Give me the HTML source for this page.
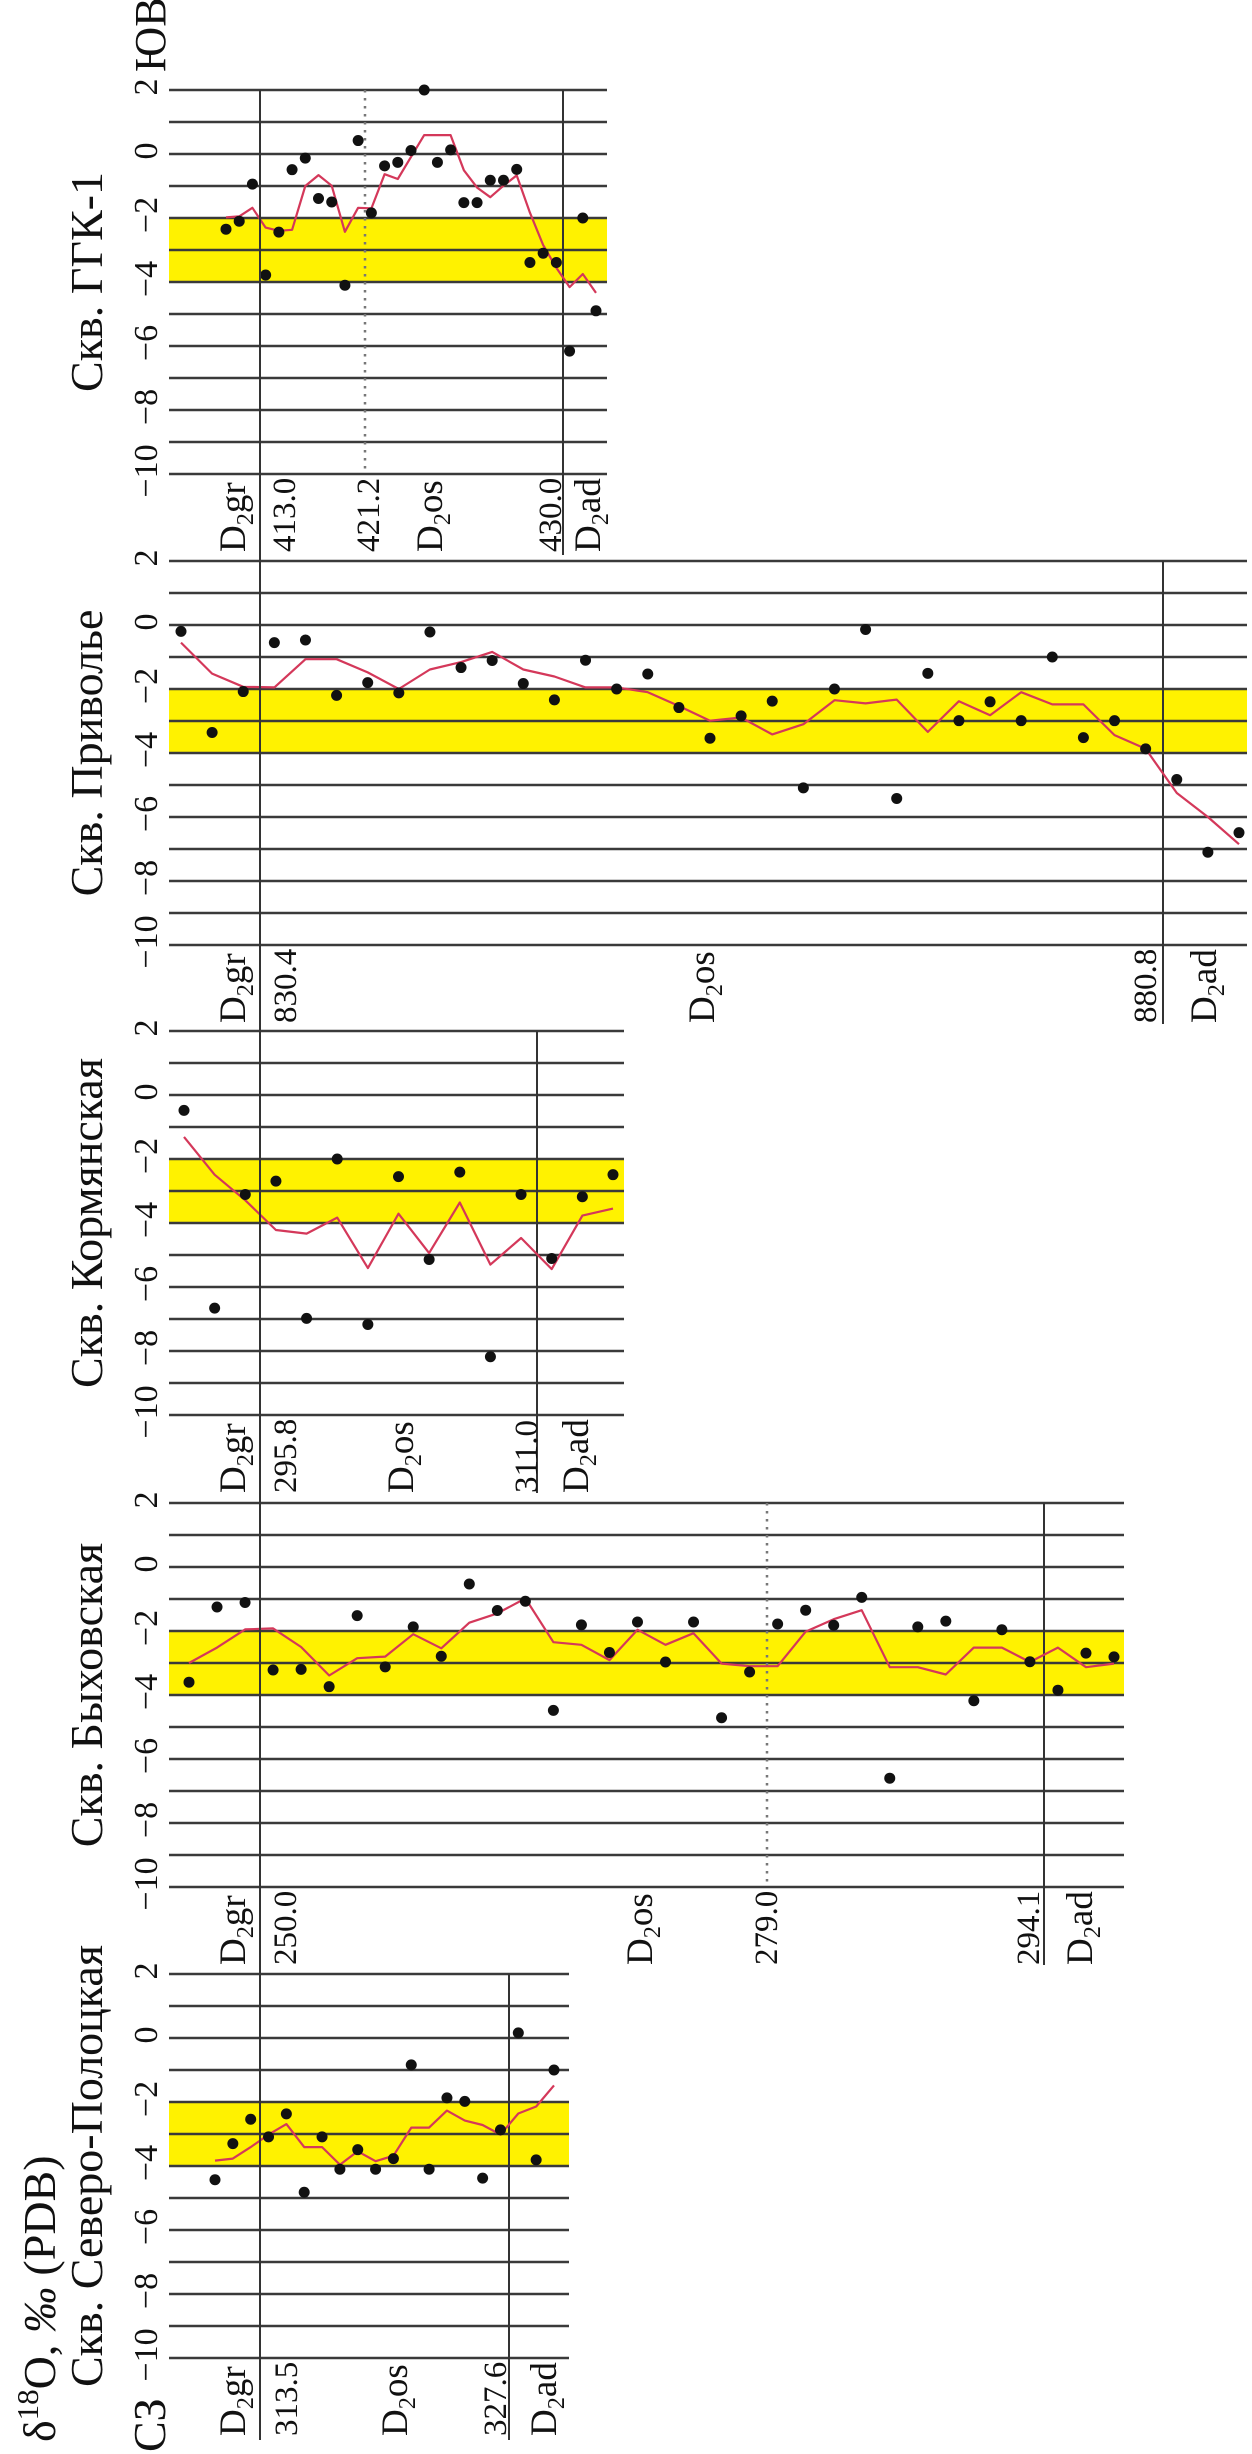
<!DOCTYPE html>
<html><head><meta charset="utf-8">
<style>
html,body{margin:0;padding:0;background:#fff;}
svg{display:block;font-family:"Liberation Serif",serif;}
</style></head>
<body>
<svg id="chart" width="1252" height="2454" viewBox="0 0 1252 2454" xmlns="http://www.w3.org/2000/svg">
<g id="layer"></g>
</svg>
<script>
// ---- data (sample-order values, δ18O ‰ PDB) ----
const valueTicks = [2, 0, -2, -4, -6, -8, -10];
const tickLabels = ["2", "0", "\u22122", "\u22124", "\u22126", "\u22128", "\u221210"];

const ggkValues = [-2.35,-2.1,-0.94,-3.78,-2.44,-0.49,-0.13,-1.39,-1.5,-4.1,0.42,-1.84,-0.37,-0.26,0.11,2.0,-0.26,0.13,-1.52,-1.52,-0.82,-0.82,-0.48,-3.39,-3.1,-3.39,-6.16,-2.0,-4.9];
const ggkTrend = [-1.98,-1.95,-1.68,-2.3,-2.4,-2.37,-1.0,-0.66,-0.99,-2.43,-1.68,-1.7,-0.63,-0.78,-0.09,0.59,0.59,0.59,-0.51,-1.05,-1.35,-0.99,-0.67,-1.83,-2.84,-3.56,-4.16,-3.75,-4.34];

const privValues = [-0.2,-3.36,-2.08,-0.55,-0.47,-2.2,-1.8,-2.12,-0.22,-1.33,-1.11,-1.83,-2.34,-1.1,-2.0,-1.53,-2.58,-3.54,-2.84,-2.38,-5.09,-2.0,-0.14,-5.42,-1.51,-2.99,-2.4,-2.99,-1.0,-3.52,-2.99,-3.87,-4.83,-7.1,-6.49];
const privTrend = [-0.55,-1.52,-1.93,-1.95,-1.07,-1.07,-1.48,-2.0,-1.39,-1.16,-0.84,-1.39,-1.61,-1.95,-1.95,-2.1,-2.53,-2.99,-2.89,-3.42,-3.1,-2.35,-2.45,-2.33,-3.34,-2.38,-2.82,-2.1,-2.48,-2.48,-3.44,-3.87,-5.25,-6.0,-6.85];

const kormValues = [-0.48,-6.66,-3.11,-2.69,-6.98,-2.0,-7.17,-2.55,-5.14,-2.41,-8.18,-3.11,-5.11,-3.18,-2.49];
const kormTrend = [-1.31,-2.49,-3.29,-4.22,-4.33,-3.83,-5.41,-3.71,-4.94,-3.36,-5.3,-4.47,-5.44,-3.77,-3.55];

const bykhValues = [-3.6,-1.25,-1.11,-3.22,-3.2,-3.74,-1.52,-3.12,-1.87,-2.79,-0.53,-1.36,-1.07,-4.48,-1.81,-2.67,-1.72,-2.97,-1.72,-4.71,-3.28,-1.78,-1.35,-1.82,-0.95,-6.6,-1.87,-1.69,-4.18,-1.96,-2.96,-3.85,-2.69,-2.81];
const bykhTrend = [-3.0,-2.52,-1.95,-1.92,-2.5,-3.39,-2.85,-2.8,-2.1,-2.54,-1.74,-1.45,-0.98,-2.35,-2.43,-2.91,-1.96,-2.43,-2.07,-3.02,-3.1,-3.1,-2.02,-1.63,-1.35,-3.13,-3.13,-3.36,-2.52,-2.52,-2.97,-2.52,-3.13,-3.02];

const spolValues = [-4.43,-3.3,-2.54,-3.09,-2.37,-4.82,-3.09,-4.1,-3.49,-4.1,-3.77,-0.84,-4.1,-1.87,-1.98,-4.38,-2.87,0.16,-3.81,-1.0];
const spolTrend = [-3.83,-3.77,-3.41,-3.02,-2.69,-3.41,-3.41,-3.96,-3.54,-3.85,-3.68,-2.8,-2.8,-2.27,-2.58,-2.72,-3.02,-2.36,-2.14,-1.48];

// ---- layout ----
const NS = "http://www.w3.org/2000/svg";
const layer = document.getElementById("layer");
const UNIT = 32, LEFT = 169;
function mk(tag, attrs, parent) {
  const e = document.createElementNS(NS, tag);
  for (const k in attrs) e.setAttribute(k, attrs[k]);
  (parent || layer).appendChild(e);
  return e;
}
function rtext(txt, x, y, size, anchor, parent) {
  const t = mk("text", {x: 0, y: 0, "font-size": size, "text-anchor": anchor || "start", fill: "#111",
    transform: "translate(" + x + "," + y + ") rotate(-90)"}, parent);
  t.textContent = txt;
  return t;
}
function rlabel(main, sub, rest, x, y, size, parent) {
  const t = mk("text", {x: 0, y: 0, "font-size": size, fill: "#111",
    transform: "translate(" + x + "," + y + ") rotate(-90)"}, parent);
  const a = document.createElementNS(NS, "tspan"); a.textContent = main; t.appendChild(a);
  const b = document.createElementNS(NS, "tspan"); b.setAttribute("font-size", size * 0.66); b.setAttribute("dy", size * 0.22); b.textContent = sub; t.appendChild(b);
  const c = document.createElementNS(NS, "tspan"); c.setAttribute("dy", -size * 0.22); c.textContent = rest; t.appendChild(c);
  return t;
}

const panels = [
  {key:"ggk", title:"Скв. ГГК-1", top:90, right:607, x0:226, x1:596, vals:ggkValues, trend:ggkTrend,
   solid:[[563,555]], dotted:[365],
   labels:[["n","413.0",295],["n","421.2",379],["D","os",442],["n","430.0",561],["D","ad",600]]},
  {key:"privolye", title:"Скв. Приволье", top:561, right:1247, x0:181, x1:1239, vals:privValues, trend:privTrend,
   solid:[[1163,1024]], dotted:[],
   labels:[["n","830.4",296],["D","os",714],["n","880.8",1156],["D","ad",1216]]},
  {key:"kormyanskaya", title:"Скв. Кормянская", top:1031, right:624, x0:184, x1:613, vals:kormValues, trend:kormTrend,
   solid:[[537,1493]], dotted:[],
   labels:[["n","295.8",296],["D","os",413],["n","311.0",537],["D","ad",588]]},
  {key:"bykhovskaya", title:"Скв. Быховская", top:1503, right:1124, x0:189, x1:1114, vals:bykhValues, trend:bykhTrend,
   solid:[[1044,1965]], dotted:[767],
   labels:[["n","250.0",296],["D","os",652],["n","279.0",777],["n","294.1",1039],["D","ad",1092]]},
  {key:"severo-polotskaya", title:"Скв. Северо-Полоцкая", top:1974, right:569, x0:215, x1:554, vals:spolValues, trend:spolTrend,
   solid:[[509,2440]], dotted:[],
   labels:[["n","313.5",297],["D","os",407],["n","327.6",506],["D","ad",556]]}
];

panels.forEach(p => {
  const g = mk("g", {});
  
  
  const yv = v => p.top + (2 - v) * UNIT;
  const n = p.vals.length;
  const xi = i => p.x0 + (p.x1 - p.x0) * i / (n - 1);

  const band = mk("rect", {x: LEFT, y: yv(-2), width: p.right - LEFT, height: yv(-4) - yv(-2), fill: "#fff200"}, g);
  
  

  for (let v = 2; v >= -10; v--) {
    const l = mk("line", {x1: LEFT, x2: p.right, y1: yv(v), y2: yv(v), stroke: "#3a3a3a", "stroke-width": 2.4}, g);
    
    
  }
  valueTicks.forEach((v, i) => {
    const t = rtext(tickLabels[i], 157, yv(v) - 3, 34, "middle", g);
    
    
  });
  p.solid.forEach(s => {
    const l = mk("line", {x1: s[0], x2: s[0], y1: p.top, y2: s[1], stroke: "#333", "stroke-width": 2}, g);
    
    
  });
  p.dotted.forEach(x => {
    const l = mk("line", {x1: x, x2: x, y1: p.top, y2: p.top + 12 * UNIT, stroke: "#777", "stroke-width": 2.5, "stroke-dasharray": "2.5 5.5"}, g);
    
    
  });
  const d = p.trend.map((v, i) => (i ? "L" : "M") + xi(i).toFixed(1) + "," + yv(v).toFixed(1)).join(" ");
  const path = mk("path", {d: d, fill: "none", stroke: "#d4385a", "stroke-width": 2.2, "stroke-linejoin": "round"}, g);
  
  
  p.vals.forEach((v, i) => {
    const c = mk("circle", {cx: xi(i), cy: yv(v), r: 5.5, fill: "#111"}, g);
    
    
  });
  const tt = rtext(p.title, 102, p.top + 192, 46, "middle", g);
  
  
  const base = p.top + 462;
  const dg = rlabel("D", "2", "gr", 245, base, 37, g);
  
  
  p.labels.forEach(L => {
    let t;
    if (L[0] === "n") t = rtext(L[1], L[2], base, 33, "start", g);
    else t = rlabel("D", "2", L[1], L[2], base, 37, g);
    
    
  });
});

// long D2gr boundary line across all panels
const gl = mk("line", {x1: 260, x2: 260, y1: 90, y2: 2440, stroke: "#333", "stroke-width": 2});



const yb = rtext("ЮВ", 165, 72, 44, "start");


const sz = rtext("СЗ", 165, 2452, 46, "start");



const ax = mk("text", {x: 0, y: 0, "font-size": 46, fill: "#111", transform: "translate(55,2442) rotate(-90)"});


const s1 = document.createElementNS(NS, "tspan"); s1.textContent = "δ"; ax.appendChild(s1);
const s2 = document.createElementNS(NS, "tspan"); s2.setAttribute("font-size", 31); s2.setAttribute("dy", -17); s2.textContent = "18"; ax.appendChild(s2);
const s3 = document.createElementNS(NS, "tspan"); s3.setAttribute("dy", 17); s3.textContent = "O, "; ax.appendChild(s3);
const s4 = document.createElementNS(NS, "tspan"); s4.setAttribute("font-style", "italic"); s4.textContent = "‰"; ax.appendChild(s4);
const s5 = document.createElementNS(NS, "tspan"); s5.textContent = " (PDB)"; ax.appendChild(s5);
</script>
</body></html>
